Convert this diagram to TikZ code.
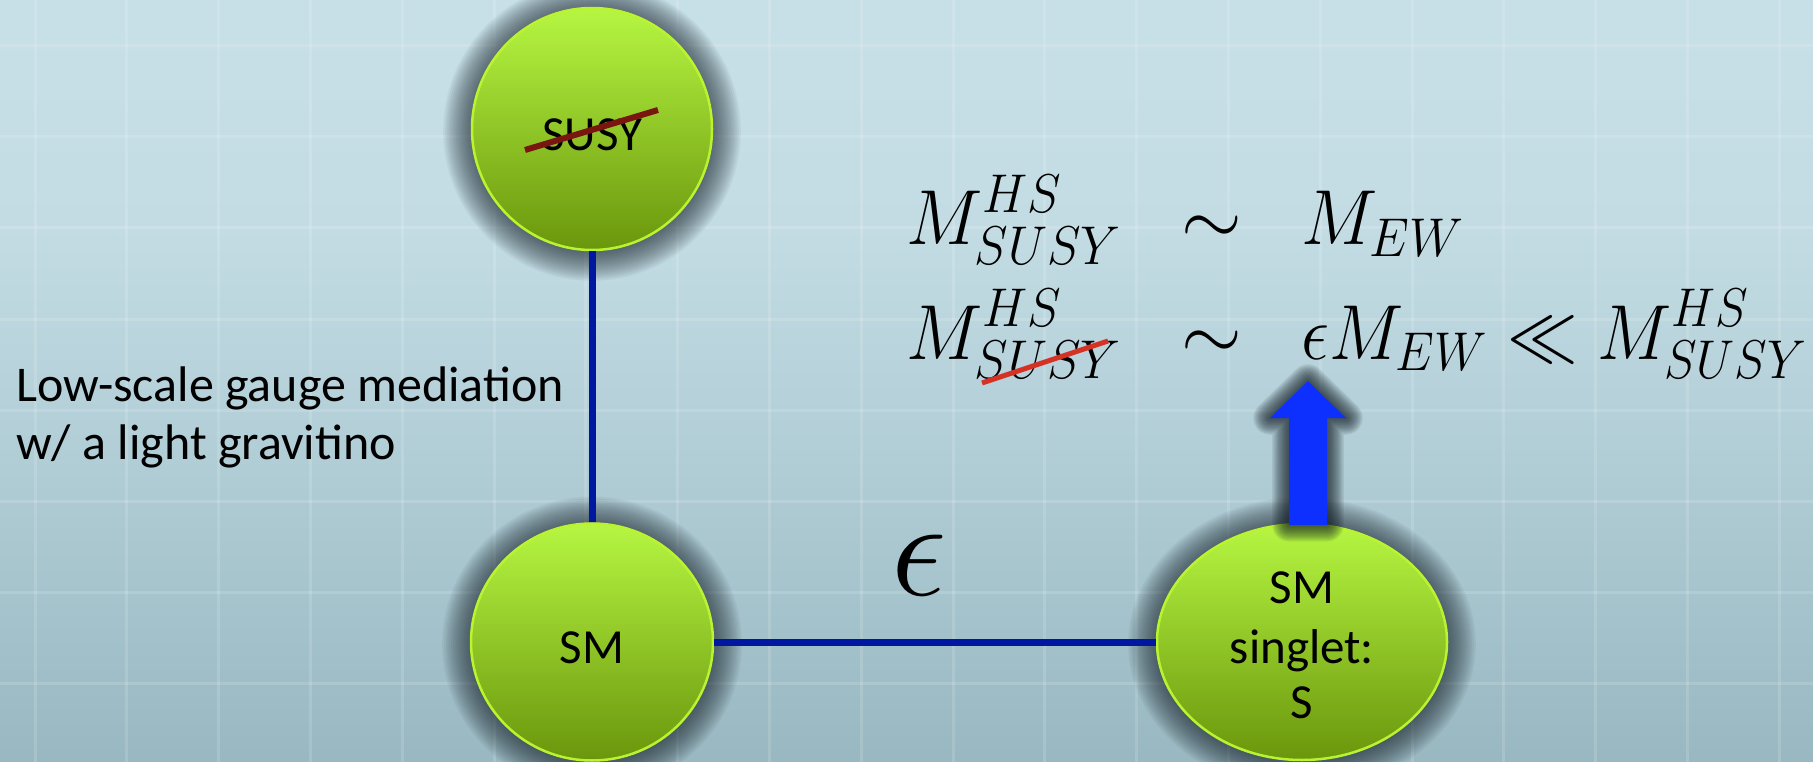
\RequirePackage{fix-cm}
\documentclass[tikz,border=0pt]{standalone}
\usepackage{fontspec}
\usepackage{graphicx}
\newfontfamily\calib{Carlito}
\usetikzlibrary{shapes.geometric,calc}

\definecolor{bgtop}{RGB}{207,229,236}
\definecolor{bgupper}{RGB}{195,220,228}
\definecolor{bglower}{RGB}{165,195,204}
\definecolor{bgbot}{RGB}{124,155,164}
\definecolor{limetop}{RGB}{182,246,66}
\definecolor{limebot}{RGB}{106,150,12}
\definecolor{limeedge}{RGB}{186,244,48}
\definecolor{linkblue}{RGB}{0,24,160}
\definecolor{arrowblue}{RGB}{14,48,255}
\definecolor{strikedark}{RGB}{122,22,16}
\definecolor{strikered}{RGB}{212,50,36}
\definecolor{haze}{RGB}{20,30,38}

\pgfdeclareverticalshading{bgshade}{100bp}{%
  color(0bp)=(bgbot); color(35bp)=(bglower); color(60bp)=(bgupper); color(100bp)=(bgtop)}

\newcommand{\eqbox}[2][0.93]{\scalebox{#1}[1]{$\displaystyle #2$}}
% soft dark halo behind an ellipse: centre x, centre y, x radius, y radius
\newcommand{\halo}[4]{%
  \foreach \i in {1,...,16}
    \fill[haze, opacity=0.05] (#1,{#2+2}) ellipse [x radius={#3+1.8*\i}, y radius={#4+1.8*\i}];}

\tikzset{
  bubble/.style={ellipse, draw=limeedge, line width=2.5pt,
      top color=limetop, bottom color=limebot, inner sep=0pt},
  link/.style={draw=linkblue, line width=7pt},
  lab/.style={font=\calib\fontsize{49}{58}\selectfont, inner sep=0pt, text=black},
  sidelab/.style={font=\calib\fontsize{50}{58}\selectfont, inner sep=0pt, text=black},
  eq/.style={font=\fontsize{78}{90}\selectfont, inner sep=0pt},
  gridline/.style={draw=white, opacity=0.14, line width=3pt},
}

\begin{document}
\begin{tikzpicture}[x=1pt,y=-1pt]
  \useasboundingbox (0,0) rectangle (1813,762);
  % backdrop with a faint grid
  \shade[shading=bgshade] (0,0) rectangle (1813,762);
  \foreach \k in {0,...,19} \draw[gridline] ({35+91.8*\k},0) -- ({35+91.8*\k},762);
  \foreach \k in {0,...,7} \draw[gridline] (0,{46+91*\k}) -- (1813,{46+91*\k});

  % halos under the sectors
  \halo{592}{129}{120}{121}
  \halo{592}{642}{121}{118.5}
  \halo{1302}{642}{145}{118}

  % sectors
  \node[bubble, minimum width=240pt, minimum height=242pt] (susy) at (592,129) {};
  \node[bubble, minimum width=242pt, minimum height=237pt] (sm) at (592,642) {};
  \node[bubble, minimum width=290pt, minimum height=236pt] (singlet) at (1302,642) {};

  % couplings between sectors
  \draw[link] (susy.south) -- (sm.north);
  \draw[link] (sm.east) -- (singlet.west);

  % block arrow rising from the singlet, with its own halo
  \coordinate (tip) at (1308,381);
  \coordinate (abase) at (singlet.north -| tip);
  \coordinate (a1) at ($(abase)+(-19,2)$);
  \coordinate (a2) at ($(tip)+(-19,37)$);
  \coordinate (a3) at ($(tip)+(-38,37)$);
  \coordinate (a5) at ($(tip)+(38,37)$);
  \coordinate (a6) at ($(tip)+(19,37)$);
  \coordinate (a7) at ($(abase)+(19,2)$);
  \foreach \i in {1,...,14}
    \draw[haze, opacity=0.08, line width={2.4*\i}, line join=round]
      (a1) -- (a2) -- (a3) -- (tip) -- (a5) -- (a6) -- (a7) -- cycle;
  \fill[arrowblue] (a1) -- (a2) -- (a3) -- (tip) -- (a5) -- (a6) -- (a7) -- cycle;

  % labels
  \node[lab, anchor=base] (susylbl) at (592,151) {SUSY};
  \draw[strikedark, line width=6pt] (525,150) -- (658,110);
  \node[lab, anchor=base] (smlbl) at (592,663) {SM};
  \node[lab, anchor=base] (sing1) at (1302,603) {SM};
  \node[lab, anchor=base] (sing2) at (1302,663) {singlet:};
  \node[lab, anchor=base] (sing3) at (1302,718) {S};
  \node[sidelab, anchor=base west] (med1) at (16,401) {Low-scale gauge mediation};
  \node[sidelab, anchor=base west] (med2) at (16,459) {w/ a light gravitino};
  \node[font=\fontsize{140}{140}\selectfont, inner sep=0pt] (eps) at (919,565) {$\epsilon$};

  % mass relations
  \node[eq, anchor=base west] (lhsa) at (906,245) {\eqbox{M^{HS}_{SUSY}}};
  \node[eq, anchor=base] (sima) at (1212,245) {$\sim$};
  \node[eq, anchor=base west] (rhsa) at (1301,245) {\eqbox{M_{EW}}};
  \node[eq, anchor=base west] (lhsb) at (906,359) {\eqbox{M^{HS}_{SUSY}}};
  \node[eq, anchor=base] (simb) at (1212,359) {$\sim$};
  \node[eq, anchor=base west] (rhsb) at (1301,359) {\eqbox[0.905]{\epsilon M_{EW} \ll M^{HS}_{SUSY}}};
  \draw[strikered, line width=5pt] (982,383) -- (1108,341);
\end{tikzpicture}
\end{document}
